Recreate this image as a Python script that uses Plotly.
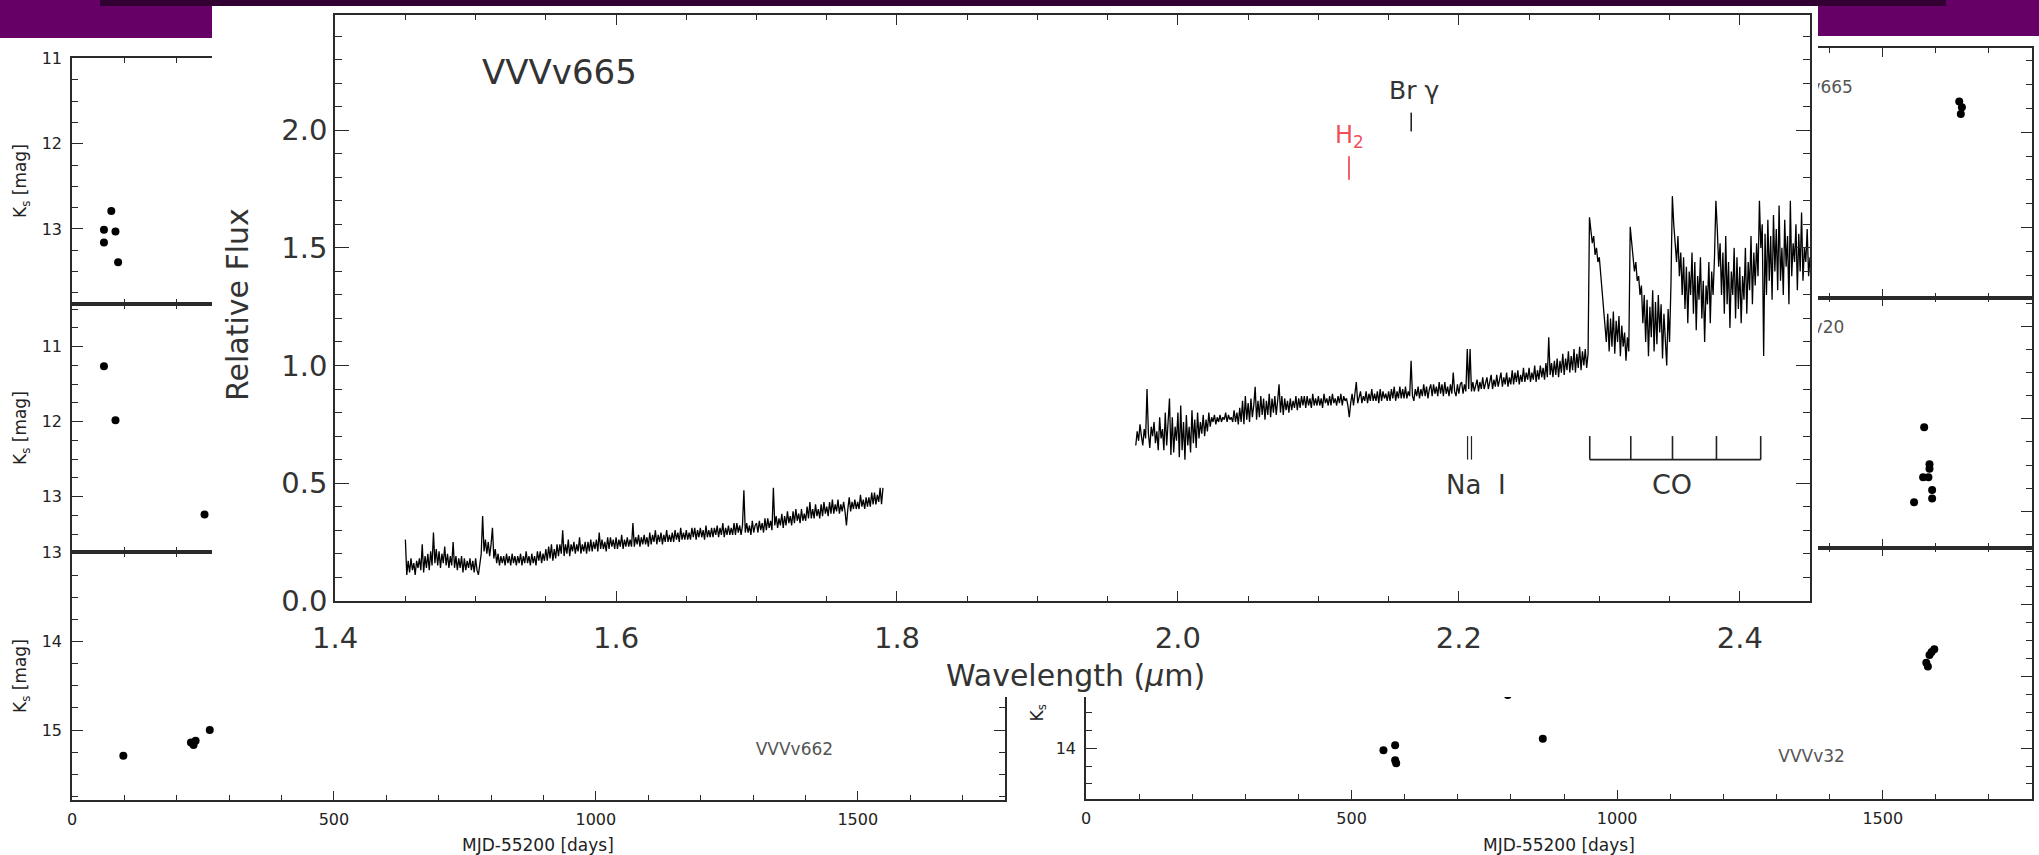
import plotly.graph_objects as go

# ---------------------------------------------------------------
# VVVv665 near-infrared spectrum (relative flux, linear sampling)
# ---------------------------------------------------------------
H_START = 1.450      # first wavelength of the H-band segment (micron)
K_START = 1.970      # first wavelength of the K-band segment (micron)
STEP = 0.001         # dispersion (micron / pixel)

h_flux = [
    0.26, 0.11, 0.17, 0.12, 0.18, 0.13, 0.16, 0.11, 0.17, 0.14,
    0.18, 0.13, 0.24, 0.12, 0.19, 0.14, 0.20, 0.13, 0.21, 0.15,
    0.29, 0.16, 0.22, 0.15, 0.21, 0.14, 0.20, 0.16, 0.23, 0.15,
    0.20, 0.14, 0.19, 0.15, 0.25, 0.14, 0.19, 0.13, 0.18, 0.14,
    0.19, 0.12, 0.18, 0.13, 0.17, 0.14, 0.18, 0.13, 0.17, 0.12,
    0.18, 0.13, 0.11, 0.17, 0.20, 0.36, 0.21, 0.26, 0.20, 0.25,
    0.19, 0.24, 0.31, 0.18, 0.22, 0.16, 0.20, 0.15, 0.19, 0.16,
    0.19, 0.15, 0.20, 0.16, 0.19, 0.15, 0.20, 0.16, 0.19, 0.15,
    0.19, 0.16, 0.20, 0.15, 0.19, 0.16, 0.21, 0.16, 0.19, 0.15,
    0.20, 0.16, 0.19, 0.15, 0.21, 0.17, 0.21, 0.16, 0.20, 0.17,
    0.22, 0.17, 0.23, 0.18, 0.24, 0.17, 0.22, 0.18, 0.24, 0.19,
    0.24, 0.20, 0.30, 0.19, 0.24, 0.20, 0.26, 0.19, 0.24, 0.21,
    0.25, 0.20, 0.24, 0.21, 0.27, 0.20, 0.24, 0.21, 0.25, 0.20,
    0.25, 0.21, 0.26, 0.21, 0.25, 0.22, 0.26, 0.21, 0.29, 0.22,
    0.26, 0.22, 0.25, 0.21, 0.27, 0.22, 0.27, 0.23, 0.26, 0.22,
    0.27, 0.22, 0.26, 0.23, 0.28, 0.22, 0.26, 0.23, 0.27, 0.23,
    0.26, 0.23, 0.33, 0.23, 0.27, 0.24, 0.28, 0.23, 0.27, 0.24,
    0.28, 0.24, 0.27, 0.23, 0.29, 0.24, 0.28, 0.25, 0.30, 0.24,
    0.28, 0.25, 0.29, 0.24, 0.28, 0.25, 0.30, 0.25, 0.28, 0.25,
    0.29, 0.25, 0.30, 0.26, 0.29, 0.25, 0.31, 0.26, 0.29, 0.26,
    0.30, 0.26, 0.29, 0.26, 0.31, 0.27, 0.31, 0.26, 0.30, 0.27,
    0.31, 0.27, 0.30, 0.26, 0.32, 0.27, 0.30, 0.27, 0.31, 0.27,
    0.31, 0.28, 0.32, 0.27, 0.31, 0.28, 0.33, 0.27, 0.31, 0.28,
    0.32, 0.28, 0.31, 0.28, 0.33, 0.28, 0.33, 0.29, 0.32, 0.28,
    0.32, 0.47, 0.29, 0.33, 0.29, 0.32, 0.28, 0.34, 0.29, 0.32,
    0.33, 0.29, 0.34, 0.30, 0.33, 0.29, 0.35, 0.30, 0.35, 0.31,
    0.34, 0.30, 0.48, 0.32, 0.36, 0.31, 0.35, 0.32, 0.37, 0.31,
    0.36, 0.32, 0.38, 0.33, 0.36, 0.32, 0.38, 0.33, 0.39, 0.34,
    0.37, 0.33, 0.39, 0.34, 0.37, 0.34, 0.40, 0.35, 0.42, 0.35,
    0.39, 0.35, 0.41, 0.36, 0.39, 0.35, 0.41, 0.36, 0.42, 0.37,
    0.40, 0.36, 0.42, 0.37, 0.43, 0.37, 0.41, 0.38, 0.43, 0.37,
    0.41, 0.38, 0.42, 0.38, 0.32, 0.39, 0.44, 0.38, 0.42, 0.39,
    0.43, 0.39, 0.42, 0.39, 0.45, 0.40, 0.43, 0.39, 0.44, 0.40,
    0.44, 0.40, 0.46, 0.41, 0.46, 0.41, 0.45, 0.42, 0.48, 0.41,
    0.48,
]

k_flux = [
    0.66, 0.72, 0.68, 0.75, 0.70, 0.66, 0.73, 0.69, 0.90, 0.71,
    0.65, 0.74, 0.70, 0.76, 0.67, 0.72, 0.64, 0.78, 0.69, 0.73,
    0.64, 0.80, 0.66, 0.75, 0.86, 0.62, 0.78, 0.63, 0.74, 0.68,
    0.80, 0.61, 0.83, 0.64, 0.76, 0.60, 0.79, 0.66, 0.74, 0.63,
    0.81, 0.67, 0.77, 0.65, 0.80, 0.69, 0.76, 0.71, 0.79, 0.70,
    0.77, 0.72, 0.80, 0.74, 0.78, 0.76, 0.79, 0.75, 0.78, 0.76,
    0.79, 0.76, 0.78, 0.77, 0.80, 0.76, 0.79, 0.77, 0.78, 0.76,
    0.81, 0.76, 0.80, 0.75, 0.82, 0.76, 0.85, 0.75, 0.87, 0.77,
    0.84, 0.76, 0.86, 0.78, 0.83, 0.91, 0.77, 0.85, 0.78, 0.87,
    0.79, 0.86, 0.77, 0.85, 0.79, 0.88, 0.78, 0.86, 0.80, 0.87,
    0.79, 0.85, 0.92, 0.80, 0.87, 0.79, 0.86, 0.81, 0.85, 0.80,
    0.86, 0.81, 0.85, 0.82, 0.87, 0.81, 0.86, 0.82, 0.87, 0.83,
    0.87, 0.82, 0.87, 0.83, 0.86, 0.82, 0.88, 0.83, 0.86, 0.83,
    0.87, 0.83, 0.86, 0.82, 0.88, 0.84, 0.86, 0.83, 0.87, 0.83,
    0.88, 0.84, 0.86, 0.83, 0.87, 0.84, 0.88, 0.83, 0.87, 0.85,
    0.86, 0.83, 0.78, 0.84, 0.88, 0.83, 0.88, 0.93, 0.84, 0.87,
    0.89, 0.84, 0.87, 0.85, 0.89, 0.84, 0.88, 0.85, 0.90, 0.85,
    0.88, 0.85, 0.89, 0.84, 0.90, 0.85, 0.89, 0.86, 0.88, 0.85,
    0.89, 0.85, 0.90, 0.86, 0.91, 0.85, 0.89, 0.86, 0.91, 0.86,
    0.90, 0.86, 0.91, 0.86, 0.89, 0.87, 1.02, 0.87, 0.85, 0.90,
    0.87, 0.91, 0.86, 0.90, 0.87, 0.92, 0.87, 0.91, 0.86, 0.90,
    0.92, 0.87, 0.92, 0.88, 0.91, 0.87, 0.93, 0.88, 0.92, 0.87,
    0.93, 0.88, 0.91, 0.87, 0.92, 0.88, 0.97, 0.89, 0.87, 0.92,
    0.88, 0.92, 0.93, 0.88, 0.92, 0.89, 1.07, 0.90, 1.07, 0.89,
    0.93, 0.89, 0.92, 0.94, 0.89, 0.93, 0.90, 0.95, 0.90, 0.93,
    0.95, 0.90, 0.93, 0.96, 0.90, 0.94, 0.91, 0.96, 0.91, 0.94,
    0.97, 0.91, 0.95, 0.92, 0.97, 0.91, 0.95, 0.92, 0.98, 0.92,
    0.97, 0.93, 0.98, 0.92, 0.96, 0.93, 0.99, 0.93, 0.97, 0.94,
    0.99, 0.93, 0.97, 0.94, 1.00, 0.93, 0.98, 0.94, 1.00, 0.95,
    0.99, 0.94, 1.01, 0.95, 1.12, 0.96, 1.01, 0.95, 1.02, 0.96,
    1.03, 0.95, 1.02, 0.97, 1.05, 0.96, 1.03, 0.98, 1.06, 0.97,
    1.04, 0.98, 1.07, 0.97, 1.05, 0.99, 1.08, 0.98, 1.06, 1.00,
    1.07, 0.99, 1.05, 1.63, 1.58, 1.52, 1.55, 1.47, 1.50, 1.44,
    1.46, 1.38, 1.30, 1.24, 1.18, 1.10, 1.22, 1.06, 1.20, 1.08,
    1.23, 1.05, 1.19, 1.10, 1.21, 1.04, 1.17, 1.08, 1.14, 1.02,
    1.12, 1.06, 1.59, 1.52, 1.47, 1.40, 1.44, 1.36, 1.38, 1.30,
    1.34, 1.18, 1.30, 1.10, 1.28, 1.04, 1.25, 1.12, 1.32, 1.06,
    1.27, 1.09, 1.30, 1.14, 1.26, 1.03, 1.22, 1.08, 1.00, 1.24,
    1.10, 1.34, 1.72, 1.60, 1.52, 1.44, 1.55, 1.38, 1.48, 1.30,
    1.46, 1.24, 1.42, 1.18, 1.40, 1.30, 1.48, 1.22, 1.44, 1.15,
    1.38, 1.28, 1.46, 1.20, 1.36, 1.10, 1.34, 1.26, 1.44, 1.18,
    1.40, 1.30, 1.46, 1.70, 1.58, 1.42, 1.52, 1.30, 1.48, 1.22,
    1.55, 1.26, 1.44, 1.16, 1.40, 1.30, 1.50, 1.20, 1.46, 1.24,
    1.42, 1.18, 1.38, 1.28, 1.50, 1.22, 1.44, 1.32, 1.55, 1.26,
    1.48, 1.34, 1.52, 1.38, 1.70, 1.50, 1.60, 1.04, 1.56, 1.30,
    1.62, 1.36, 1.55, 1.28, 1.64, 1.40, 1.58, 1.32, 1.68, 1.36,
    1.50, 1.30, 1.62, 1.42, 1.55, 1.26, 1.70, 1.38, 1.52, 1.44,
    1.60, 1.32, 1.56, 1.40, 1.65, 1.36, 1.50, 1.44, 1.58, 1.38,
    1.46,
]

h_wave = [round(H_START + STEP * i, 4) for i in range(len(h_flux))]
k_wave = [round(K_START + STEP * i, 4) for i in range(len(k_flux))]

# line identifications (micron)
H2_WAVE = 2.1218
BRG_WAVE = 2.1661
NAI_WAVES = [2.2062, 2.2090]
CO_WAVES = [2.2932, 2.3224, 2.3521, 2.3834, 2.4149]

# spectrum axis ticks
wave_ticks = [1.4, 1.6, 1.8, 2.0, 2.2, 2.4]
flux_ticks = [0.0, 0.5, 1.0, 1.5, 2.0]

# ---------------------------------------------------------------
# Ks light curves (MJD-55200 in days, Ks in mag)
# ---------------------------------------------------------------
lc_a_days = [61, 61, 75, 83, 88]
lc_a_ks = [13.01, 13.16, 12.79, 13.03, 13.39]

lc_b_days = [61, 83, 253]
lc_b_ks = [11.26, 11.98, 13.24]

lc_v662_days = [98, 227, 232, 236, 263]
lc_v662_ks = [15.29, 15.14, 15.17, 15.12, 15.00]

lc_v665_days = [1644, 1647, 1649]
lc_v665_ks = [11.68, 11.81, 11.74]

lc_v20_days = [1559, 1576, 1578, 1586, 1588, 1588, 1593, 1593]
lc_v20_ks = [11.90, 11.63, 11.09, 11.63, 11.49, 11.54, 11.77, 11.86]

lc_v32_days = [560, 582, 582, 584, 794, 860, 1582, 1585, 1588, 1592, 1597]
lc_v32_ks = [14.03, 13.96, 14.17, 14.21, 13.26, 13.87, 12.81, 12.86, 12.70, 12.66, 12.62]

day_ticks = [0, 500, 1000, 1500]
v32_mag_ticks = [12, 13, 14]
v32_mag_text = ["", "", "14"]   # the upper labels sit under the spectrum card

# ---------------------------------------------------------------
# page geometry (pixels -> paper fractions)
# ---------------------------------------------------------------
W, H = 2039, 855


def fx(p):
    return p / W


def fy(p):
    return 1 - p / H


AX = "#2a2a2a"
TXT = "#222222"
LC_FONT = "DejaVu Sans"
SP_FONT = "DejaVu Sans"

fig = go.Figure()


def lc_xaxis(dom, anchor, labels):
    return dict(
        domain=dom, anchor=anchor, range=[0, 1781], autorange=False, automargin=False,
        showgrid=False, zeroline=False, showline=True, linecolor=AX, linewidth=1.5,
        mirror="ticks", ticks="inside", ticklen=9, tickwidth=1.2, tickcolor=AX,
        tickvals=day_ticks, ticktext=[str(d) for d in day_ticks],
        minor=dict(ticks="inside", ticklen=5, dtick=100, tick0=0, tickcolor=AX, tickwidth=1.2),
        showticklabels=labels, ticklabelstandoff=4,
        tickfont=dict(family=LC_FONT, size=16, color=TXT),
    )


def lc_yaxis(dom, anchor, rng, **extra):
    ax = dict(
        domain=dom, anchor=anchor, range=rng, autorange=False, automargin=False,
        showgrid=False, zeroline=False, showline=True, linecolor=AX, linewidth=1.5,
        mirror="ticks", ticks="inside", ticklen=11, tickwidth=1.2, tickcolor=AX,
        dtick=1, tick0=0,
        minor=dict(ticks="inside", ticklen=6, dtick=0.25, tick0=0, tickcolor=AX, tickwidth=1.2),
        ticklabelstandoff=5,
        tickfont=dict(family=LC_FONT, size=16, color=TXT),
    )
    ax.update(extra)
    return ax


LEFT_X = [fx(72), fx(1005)]
RIGHT_X = [fx(1086), fx(2032)]

layout_axes = {
    # left column
    "xaxis": lc_xaxis(LEFT_X, "y", False),
    "yaxis": lc_yaxis([fy(304), fy(58)], "x", [13.88, 10.995]),
    "xaxis2": lc_xaxis(LEFT_X, "y2", False),
    "yaxis2": lc_yaxis([fy(552), fy(304)], "x2", [13.74, 10.43]),
    "xaxis3": lc_xaxis(LEFT_X, "y3", True),
    "yaxis3": lc_yaxis([fy(800), fy(552)], "x3", [15.79, 12.99]),
    # right column
    "xaxis4": lc_xaxis(RIGHT_X, "y4", False),
    "yaxis4": lc_yaxis([fy(297.5), fy(48)], "x4", [13.73, 11.12]),
    "xaxis5": lc_xaxis(RIGHT_X, "y5", False),
    "yaxis5": lc_yaxis([fy(547.5), fy(297.5)], "x5", [12.39, 9.69]),
    "xaxis6": lc_xaxis(RIGHT_X, "y6", True),
    "yaxis6": lc_yaxis([fy(799), fy(547.5)], "x6", [14.71, 11.20],
                       tickvals=v32_mag_ticks, ticktext=v32_mag_text),
    # white card behind the spectrum
    "xaxis7": dict(domain=[fx(212), fx(1818)], anchor="y7", range=[0, 1], visible=False,
                   automargin=False),
    "yaxis7": dict(domain=[fy(697), fy(6)], anchor="x7", range=[0, 1], visible=False,
                   automargin=False),
    # spectrum
    "xaxis8": dict(
        domain=[fx(335), fx(1810)], anchor="y8", range=[1.3999, 2.45], autorange=False,
        automargin=False,
        showgrid=False, zeroline=False, showline=True, linecolor=AX, linewidth=1.6,
        mirror="ticks", ticks="inside", ticklen=10, tickwidth=1.3, tickcolor=AX,
        tickvals=wave_ticks, ticktext=[f"{v:.1f}" for v in wave_ticks],
        minor=dict(ticks="inside", ticklen=5, dtick=0.05, tick0=1.4, tickcolor=AX, tickwidth=1.3),
        ticklabelstandoff=10,
        tickfont=dict(family=SP_FONT, size=29, color="#333333"),
    ),
    "yaxis8": dict(
        domain=[fy(601), fy(15)], anchor="x8", range=[-0.001, 2.49], autorange=False,
        automargin=False,
        showgrid=False, zeroline=False, showline=True, linecolor=AX, linewidth=1.6,
        mirror="ticks", ticks="inside", ticklen=14, tickwidth=1.3, tickcolor=AX,
        tickvals=flux_ticks, ticktext=[f"{v:.1f}" for v in flux_ticks],
        minor=dict(ticks="inside", ticklen=7, dtick=0.1, tick0=0, tickcolor=AX, tickwidth=1.3),
        ticklabelstandoff=0,
        tickfont=dict(family=SP_FONT, size=29, color="#333333"),
    ),
}

# ---- light-curve points ----
panels = [
    (lc_a_days, lc_a_ks, "x", "y"),
    (lc_b_days, lc_b_ks, "x2", "y2"),
    (lc_v662_days, lc_v662_ks, "x3", "y3"),
    (lc_v665_days, lc_v665_ks, "x4", "y4"),
    (lc_v20_days, lc_v20_ks, "x5", "y5"),
    (lc_v32_days, lc_v32_ks, "x6", "y6"),
]
for days, ks, xa, ya in panels:
    fig.add_trace(go.Scatter(
        x=days, y=ks, xaxis=xa, yaxis=ya, mode="markers",
        marker=dict(size=8, color="black", line=dict(width=0)),
        hoverinfo="skip", showlegend=False,
    ))

# object names inside the light-curve panels
for name, xa, ya, xv, yv in [
    ("VVVv662", "x3", "y3", 1379, 15.23),
    ("VVVv665", "x4", "y4", 1371, 11.55),
    ("VVVv20", "x5", "y5", 1365, 10.03),
    ("VVVv32", "x6", "y6", 1366, 14.14),
]:
    fig.add_trace(go.Scatter(
        x=[xv], y=[yv], xaxis=xa, yaxis=ya, mode="text", text=[name],
        textfont=dict(family=LC_FONT, size=17, color="#555555"),
        hoverinfo="skip", showlegend=False,
    ))

# anchor trace for the white card subplot
fig.add_trace(go.Scatter(
    x=[0.5], y=[0.5], xaxis="x7", yaxis="y7", mode="markers",
    marker=dict(opacity=0), hoverinfo="skip", showlegend=False,
))

# ---- spectrum ----
for wv, fl in [(h_wave, h_flux), (k_wave, k_flux)]:
    fig.add_trace(go.Scatter(
        x=wv, y=fl, xaxis="x8", yaxis="y8", mode="lines",
        line=dict(color="black", width=1.3),
        hoverinfo="skip", showlegend=False,
    ))

# line markers
ID_LINE = dict(color="#222222", width=1.6)
fig.add_trace(go.Scatter(x=[H2_WAVE, H2_WAVE], y=[1.79, 1.89], xaxis="x8", yaxis="y8",
                         mode="lines", line=dict(color="#f0505a", width=1.8),
                         hoverinfo="skip", showlegend=False))
fig.add_trace(go.Scatter(x=[BRG_WAVE, BRG_WAVE], y=[1.995, 2.075], xaxis="x8", yaxis="y8",
                         mode="lines", line=ID_LINE, hoverinfo="skip", showlegend=False))
for w in NAI_WAVES:
    fig.add_trace(go.Scatter(x=[w, w], y=[0.60, 0.70], xaxis="x8", yaxis="y8",
                             mode="lines", line=dict(color="#222222", width=1.2),
                             hoverinfo="skip", showlegend=False))
co_x, co_y = [CO_WAVES[0], CO_WAVES[-1]], [0.60, 0.60]
fig.add_trace(go.Scatter(x=co_x, y=co_y, xaxis="x8", yaxis="y8", mode="lines",
                         line=ID_LINE, hoverinfo="skip", showlegend=False))
for w in CO_WAVES:
    fig.add_trace(go.Scatter(x=[w, w], y=[0.60, 0.70], xaxis="x8", yaxis="y8",
                             mode="lines", line=ID_LINE, hoverinfo="skip", showlegend=False))


def note(text, x, y, ref="paper", size=30, color="#333333", angle=0, xa="center", ya="middle"):
    xr, yr = (ref, ref) if ref == "paper" else ("x8", "y8")
    return dict(text=text, x=x, y=y, xref=xr, yref=yr, showarrow=False, textangle=angle,
                xanchor=xa, yanchor=ya, font=dict(family=SP_FONT, size=size, color=color))


annotations = [
    # spectrum labels
    note("VVVv665", 1.5594, 2.248, ref="data", size=34),
    note("Br γ", 2.168, 2.167, ref="data", size=25),
    note("H<sub>2</sub>", 2.1222, 1.90, ref="data", size=24, color="#f0505a", ya="bottom"),
    note("Na  I", 2.212, 0.494, ref="data", size=26),
    note("CO", 2.352, 0.494, ref="data", size=27),
    note("Relative Flux", fx(238), fy(305), angle=-90),
    note("Wavelength (<i>μ</i>m)", fx(1075), fy(675)),
    # light-curve axis titles
    note("MJD-55200 [days]", fx(538), fy(845), size=17, color=TXT),
    note("MJD-55200 [days]", fx(1559), fy(845), size=17, color=TXT),
    note("K<sub>s</sub>", fx(1038), fy(724), size=17, color=TXT, angle=-90, ya="bottom"),
]
for yc in (181, 428, 676):
    annotations.append(note("K<sub>s</sub> [mag]", fx(21), fy(yc), size=17, color=TXT,
                            angle=-90))

shapes = [
    # white card (drawn inside its own subplot so it hides the panels beneath)
    dict(type="rect", xref="x7", yref="y7", x0=0, x1=1, y0=0, y1=1,
         fillcolor="white", line=dict(width=0), layer="below"),
    # slide header
    dict(type="rect", xref="paper", yref="paper", x0=0, x1=fx(212), y0=fy(38), y1=1,
         fillcolor="#660066", line=dict(width=0), layer="above"),
    dict(type="rect", xref="paper", yref="paper", x0=fx(1818), x1=1, y0=fy(36), y1=1,
         fillcolor="#660066", line=dict(width=0), layer="above"),
    dict(type="rect", xref="paper", yref="paper", x0=fx(100), x1=fx(1946), y0=fy(6), y1=1,
         fillcolor="#330033", line=dict(width=0), layer="above"),
]

fig.update_layout(
    width=W, height=H, autosize=False,
    margin=dict(l=0, r=0, t=0, b=0, pad=0, autoexpand=False),
    paper_bgcolor="white", plot_bgcolor="white",
    showlegend=False,
    annotations=annotations, shapes=shapes,
    **layout_axes,
)

# the page body gets no default margin so the figure sits flush with the window
fig.write_html(
    "out.html",
    config={"displayModeBar": False},
    post_script="document.body.style.margin='0';document.body.style.padding='0';"
                "document.body.style.overflow='hidden';",
)
